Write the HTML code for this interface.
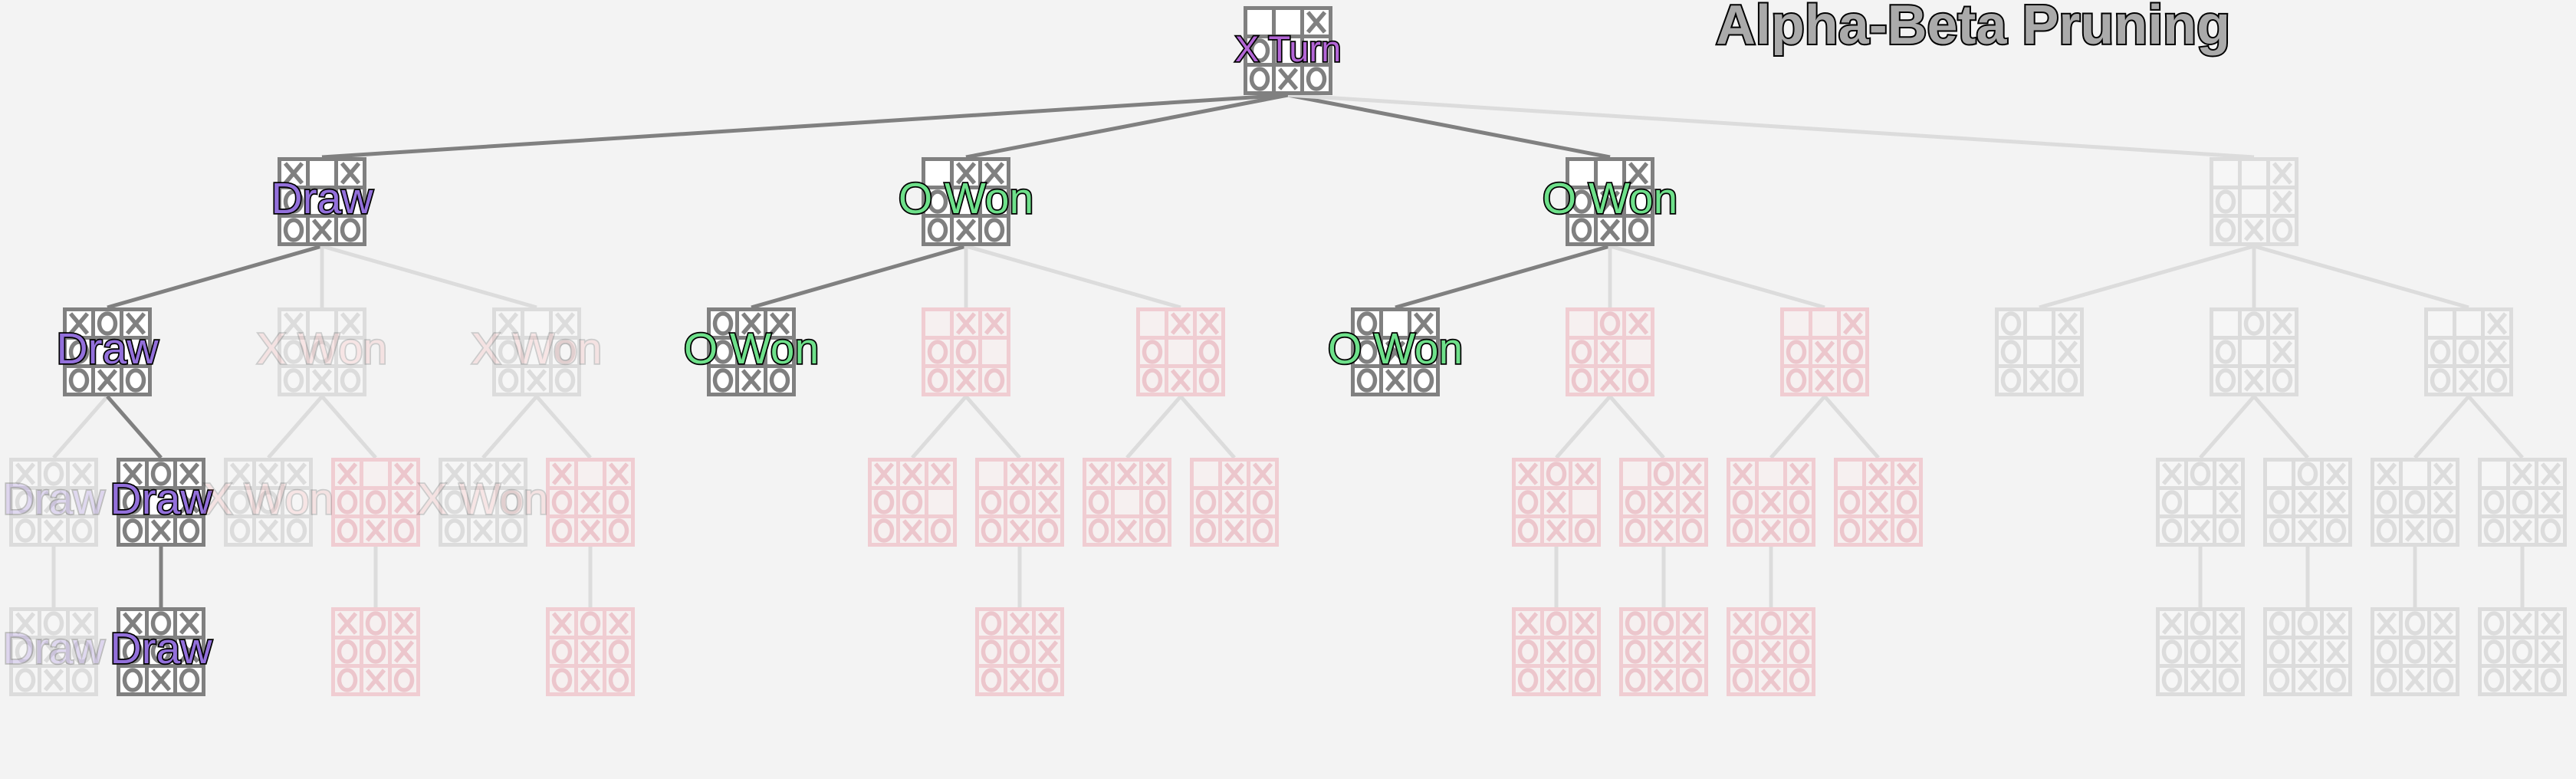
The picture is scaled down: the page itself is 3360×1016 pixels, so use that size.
<!DOCTYPE html>
<html><head><meta charset="utf-8">
<style>
html,body{margin:0;padding:0;background:#f3f3f3;}
svg{display:block;}
text{font-family:"Liberation Sans",Arial,sans-serif;}
</style></head>
<body>
<svg id="s" xmlns="http://www.w3.org/2000/svg" width="3360" height="1016" viewBox="0 0 3360 1016">
<rect width="3360" height="1016" fill="#f3f3f3"/>
<g id="edges"></g>
<g id="boards"></g>
<g id="labels"></g>
<text x="2238" y="57" font-size="72" font-weight="bold" fill="#aaaaaa" stroke="#000" stroke-width="4" paint-order="stroke" textLength="671" lengthAdjust="spacingAndGlyphs">Alpha-Beta Pruning</text>
</svg>
<script>
var NS="http://www.w3.org/2000/svg";
var tops=[8,205,401,597,792];
var ST={a:{f:"#808080",c:"#ffffff",m:"#808080"},g:{f:"#dcdcdc",c:"#f6f6f6",m:"#dcdcdc"},p:{f:"#f0cdd2",c:"#f6f0f0",m:"#ecc6cc"}};
var nodes=[
[1680,0,"..XO..OXO","a","X Turn","t"],
[420,1,"X.XO..OXO","a","Draw","d"],[1260,1,".XXO..OXO","a","O Won","o"],[2100,1,"..XOX.OXO","a","O Won","o"],[2940,1,"..XO.XOXO","g"],
[140,2,"XOXO..OXO","a","Draw","d"],[420,2,"X.XOO.OXO","g","X Won","xf"],[700,2,"X.XO.OOXO","g","X Won","xf"],[980,2,"OXXO..OXO","a","O Won","o"],[1260,2,".XXOO.OXO","p"],[1540,2,".XXO.OOXO","p"],[1820,2,"O.XOX.OXO","a","O Won","o"],[2100,2,".OXOX.OXO","p"],[2380,2,"..XOXOOXO","p"],[2660,2,"O.XO.XOXO","g"],[2940,2,".OXO.XOXO","g"],[3220,2,"..XOOXOXO","g"],
[70,3,"XOXOX.OXO","g","Draw","df"],[210,3,"XOXO.XOXO","a","Draw","d"],[350,3,"XXXOO.OXO","g","X Won","xf"],[490,3,"X.XOOXOXO","p"],[630,3,"XXXO.OOXO","g","X Won","xf"],[770,3,"X.XOXOOXO","p"],[1190,3,"XXXOO.OXO","p"],[1330,3,".XXOOXOXO","p"],[1470,3,"XXXO.OOXO","p"],[1610,3,".XXOXOOXO","p"],[2030,3,"XOXOX.OXO","p"],[2170,3,".OXOXXOXO","p"],[2310,3,"X.XOXOOXO","p"],[2450,3,".XXOXOOXO","p"],[2870,3,"XOXO.XOXO","g"],[3010,3,".OXOXXOXO","g"],[3150,3,"X.XOOXOXO","g"],[3290,3,".XXOOXOXO","g"],
[70,4,"XOXOXOOXO","g","Draw","df"],[210,4,"XOXOOXOXO","a","Draw","d"],[490,4,"XOXOOXOXO","p"],[770,4,"XOXOXOOXO","p"],[1330,4,"OXXOOXOXO","p"],[2030,4,"XOXOXOOXO","p"],[2170,4,"OOXOXXOXO","p"],[2310,4,"XOXOXOOXO","p"],[2870,4,"XOXOOXOXO","g"],[3010,4,"OOXOXXOXO","g"],[3150,4,"XOXOOXOXO","g"],[3290,4,"OXXOOXOXO","g"]
];
function el(n,a,p){var e=document.createElementNS(NS,n);for(var k in a)e.setAttribute(k,a[k]);p.appendChild(e);return e;}
var E=document.getElementById("edges"),B=document.getElementById("boards"),L=document.getElementById("labels");
function find(x,l){for(var i=0;i<nodes.length;i++)if(nodes[i][1]==l&&nodes[i][0]==x)return nodes[i];return null;}
var active={"1680-420":1,"1680-1260":1,"1680-2100":1,"420-140":1,"140-210":1,"210-210":1,"1260-980":1,"2100-1820":1};
nodes.forEach(function(n){
  var x=n[0],l=n[1],par=null;
  if(l==1)par=find(1680,0);
  else if(l==2){var best=null;[420,1260,2100,2940].forEach(function(p){if(Math.abs(p-x)<=280)best=p;});par=find(best,1);}
  else if(l==3){par=find(x-70,2)||find(x+70,2);}
  else if(l==4)par=find(x,3);
  if(par){
    var act=active[par[0]+"-"+x]&&(par[3]=="a")&&(n[3]=="a");
    el("line",{x1:par[0],y1:tops[par[1]]+116,x2:x,y2:tops[l],stroke:act?"#808080":"#dcdcdc","stroke-width":5},E);
  }
});
nodes.forEach(function(n){
  var x=n[0]-58,y=tops[n[1]],s=ST[n[3]];
  el("rect",{x:x,y:y,width:116,height:116,fill:s.f},B);
  for(var i=0;i<9;i++){
    var r=Math.floor(i/3),c=i%3,cx=x+5+c*37,cy=y+5+r*37;
    el("rect",{x:cx,y:cy,width:32,height:32,fill:s.c},B);
    var ch=n[2][i],mx=cx+16,my=cy+16;
    if(ch=="X"){
      el("path",{d:"M"+(mx-11)+" "+(my-13)+"L"+(mx+11)+" "+(my+13)+"M"+(mx+11)+" "+(my-13)+"L"+(mx-11)+" "+(my+13),stroke:s.m,"stroke-width":5.5,fill:"none"},B);
    }else if(ch=="O"){
      el("ellipse",{cx:mx,cy:my,rx:10.5,ry:13,stroke:s.m,"stroke-width":5.5,fill:"none"},B);
    }
  }
  if(n[4]){
    var t=n[5],fill="#9370db",op=1,fs=57,by=y+73;
    if(t=="t"){fill="#b366d6";fs=47;by=y+72;}
    if(t=="o")fill="#6ee08a";
    if(t=="xf"){fill="#ff8f8f";op=0.16;}
    if(t=="df"){fill="#9370db";op=0.22;}
    var tx=el("text",{x:n[0],y:by,"font-size":fs,"text-anchor":"middle",fill:fill,stroke:"#000","stroke-width":3.5,"paint-order":"stroke",opacity:op},L);
    tx.textContent=n[4];
  }
});
</script>
</body></html>
